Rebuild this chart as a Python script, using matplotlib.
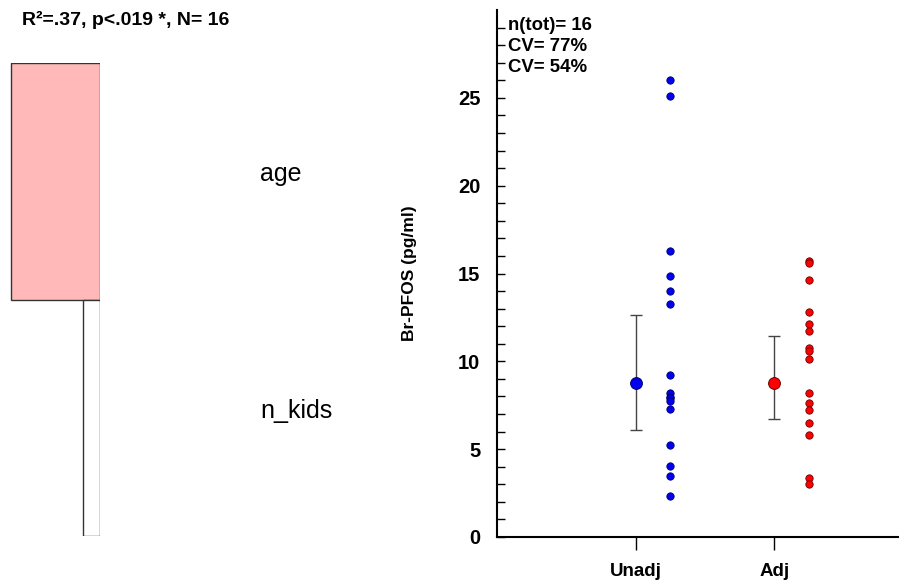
import numpy as np
import matplotlib
matplotlib.use('Agg')
import matplotlib.pyplot as plt
import matplotlib.transforms as mtransforms

# left panel: relative importance of predictors
predictors = ['age', 'n_kids']
importance = [0.84, 0.16]
imp_colors = ['#ffb9b9', 'white']
model_text = 'R²=.37, p<.019 *, N= 16'

# right panel: Br-PFOS values
groups = ['Unadj', 'Adj']
unadj = [26.0, 25.1, 16.26, 14.87, 14.03, 13.26, 9.21, 8.19, 7.96, 7.9, 7.77, 7.31,
         5.26, 4.06, 3.46, 2.34]
adj = [15.73, 15.6, 14.63, 12.82, 12.14, 11.7, 10.75, 10.6, 10.14, 8.17, 7.6, 7.24,
       6.48, 5.79, 3.38, 3.04]
means = [8.77, 8.77]
ci_low = [6.11, 6.72]
ci_high = [12.65, 11.45]
stats_lines = ['n(tot)= 16', 'CV= 77%', 'CV= 54%']

plt.rcParams['font.family'] = ['Liberation Sans', 'DejaVu Sans']

W, H = 899, 586
fig = plt.figure(figsize=(W / 100, H / 100), dpi=100)

# ---- left panel
axl = fig.add_axes([0, 50 / H, 100 / W, 473 / H])
ypos = np.arange(len(predictors))
axl.barh(ypos, importance, height=1.0, color=imp_colors, edgecolor='#333333', linewidth=1.0)
axl.set_xlim(0, 0.84 * 100 / 89)
axl.invert_xaxis()
axl.set_ylim(len(predictors) - 0.5, -0.5)
axl.axis('off')
trans = mtransforms.blended_transform_factory(axl.transAxes, axl.transData)
for i, name in enumerate(predictors):
    axl.text(2.6, ypos[i] - 0.03, name, transform=trans, fontsize=18,
             ha='left', va='center', clip_on=False)
fig.text(22 / W, 1 - 20 / H, model_text, fontsize=14, fontweight='bold',
         ha='left', va='center')

# ---- right panel
ax = fig.add_axes([497 / W, 49 / H, 1 - 497 / W, 527 / H])
x = np.arange(1, len(groups) + 1)
off = 0.25
ax.scatter(np.full(len(unadj), x[0] + off), unadj, s=28, color='#0000ee',
           edgecolor='#000066', linewidth=0.6, zorder=3)
ax.scatter(np.full(len(adj), x[1] + off), adj, s=28, color='#ff0000',
           edgecolor='#660000', linewidth=0.6, zorder=3)
mcols = ['#0000ee', '#ff0000']
ecols = ['#000066', '#660000']
for i in range(len(groups)):
    ax.errorbar(x[i], means[i],
                yerr=[[means[i] - ci_low[i]], [ci_high[i] - means[i]]],
                fmt='none', ecolor='#444444', elinewidth=1.0, capsize=4, capthick=1.0, zorder=2)
    ax.plot(x[i], means[i], 'o', markersize=8.5, color=mcols[i],
            markeredgecolor=ecols[i], markeredgewidth=0.7, zorder=4)

ax.set_xlim(0, 2.9)
ax.set_ylim(0, 30)
ax.set_xticks(x)
ax.set_xticklabels(groups, fontsize=13.5, fontweight='bold')
ax.set_yticks(np.arange(0, 26, 5))
ax.set_yticks(np.arange(0, 30, 1), minor=True)
ax.tick_params(axis='y', which='both', direction='in', length=6, width=1, pad=12, labelsize=14.5)
for lab in ax.get_yticklabels():
    lab.set_fontweight('bold')
ax.tick_params(axis='x', direction='out', length=9, width=1, pad=10)
for s in ['top', 'right']:
    ax.spines[s].set_visible(False)
for s in ['left', 'bottom']:
    ax.spines[s].set_linewidth(1.5)
ax.set_ylabel('Br-PFOS (pg/ml)', fontsize=12.5, fontweight='bold')
ax.yaxis.set_label_coords(-0.198, 0.5)

for k, line in enumerate(stats_lines):
    ax.text(11 / 402, 1 - (15 + 21.5 * k) / 527, line, transform=ax.transAxes,
            fontsize=13.4, fontweight='bold', ha='left', va='center')

fig.savefig('out.png', dpi=100)
